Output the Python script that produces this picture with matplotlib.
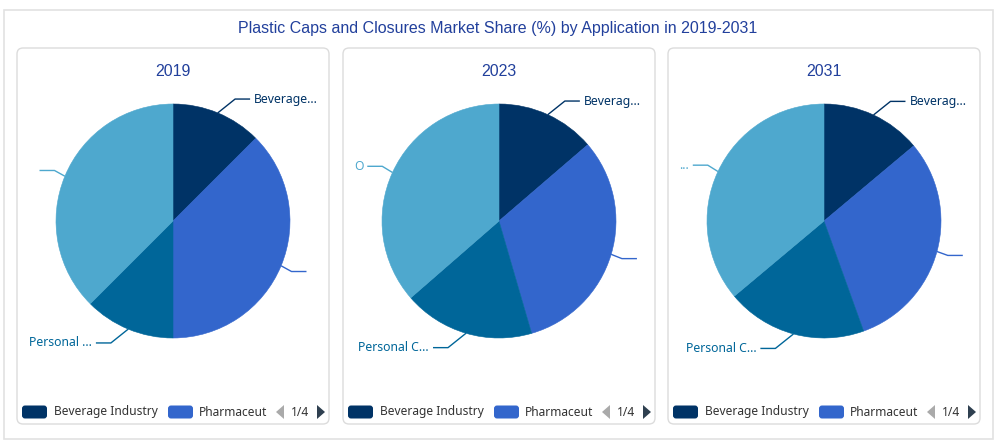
import matplotlib
matplotlib.use('Agg')
import matplotlib.pyplot as plt
from matplotlib.patches import FancyBboxPatch, Polygon, Rectangle
import numpy as np

# ---------------- data ----------------
title = 'Plastic Caps and Closures Market Share (%) by Application in 2019-2031'
years = ['2019', '2023', '2031']
categories = ['Beverage Industry', 'Pharmaceutical', 'Personal Care', 'Others']
legend_items = ['Beverage Industry', 'Pharmaceut']
legend_page = '1/4'
shares_2019 = [12.5, 37.5, 12.5, 37.5]
shares_2023 = [13.7, 31.8, 18.1, 36.4]
shares_2031 = [13.9, 30.6, 19.4, 36.1]
labels_2019 = ['Beverage...', '', 'Personal ...', '']
labels_2023 = ['Beverag...', '', 'Personal C...', 'O']
labels_2031 = ['Beverag...', '', 'Personal C...', '...']
colors = ['#003366', '#3366cc', '#006699', '#4ea8ce']

all_shares = [shares_2019, shares_2023, shares_2031]
all_labels = [labels_2019, labels_2023, labels_2031]

# ---------------- layout (pixels) ----------------
W, H = 1000, 445
def Y(py):
    return H - py

fig = plt.figure(figsize=(W / 100, H / 100), dpi=100)
ax = fig.add_axes([0, 0, 1, 1])

TITLE_FONT = ['Liberation Sans', 'DejaVu Sans']
TEXT_FONT = ['Noto Sans', 'DejaVu Sans']
title_color = '#22409c'

# outer frame
ax.add_patch(Rectangle((4, Y(439)), 989, 429, facecolor='white',
                       edgecolor='#e2e2e2', lw=1.2, zorder=0))
ax.text(498, Y(28), title, ha='center', va='center', fontsize=11.5,
        color=title_color, family=TITLE_FONT)

panel_lefts = [17, 343, 668]
panel_w = 312
panel_top, panel_bot = 48, 424
r = 117
cy = 221

for i, (year, shares, labels) in enumerate(zip(years, all_shares, all_labels)):
    pl = panel_lefts[i]
    cx = pl + panel_w / 2
    ax.add_patch(FancyBboxPatch((pl, Y(panel_bot)), panel_w, panel_bot - panel_top,
                                boxstyle='round,pad=0,rounding_size=6',
                                facecolor='white', edgecolor='#dcdcdc', lw=1.0, zorder=1))
    ax.text(cx, Y(71), year, ha='center', va='center', fontsize=11.5,
            color=title_color, family=TITLE_FONT, zorder=3)

    wedges, _ = ax.pie(shares, colors=colors, startangle=90, counterclock=False,
                       center=(cx, Y(cy)), radius=r, frame=True)
    for w, c in zip(wedges, colors):
        w.set_edgecolor(c)
        w.set_linewidth(0.4)
        w.set_zorder(2)

    tot = float(sum(shares))
    start = 0.0
    for v, lab, c in zip(shares, labels, colors):
        ang = start + v / tot * 360.0 / 2
        start += v / tot * 360.0
        th = np.deg2rad(ang)
        s, co = np.sin(th), np.cos(th)
        sign = 1 if s >= 0 else -1
        ex, ey = cx + r * s, cy - r * co
        dy = -15 * co
        dx = sign * max(0.75 * 15 * abs(s), 1.25 * abs(dy))
        kx, ky = ex + dx, ey + dy
        hx = kx + sign * 15
        ax.plot([ex, kx, hx], [Y(ey), Y(ky), Y(ky)], color=c, lw=1.0,
                solid_capstyle='butt', zorder=3)
        if lab:
            ax.text(hx + sign * 4, Y(ky), lab, ha='left' if sign > 0 else 'right',
                    va='center', fontsize=8.8, color=c, family=TEXT_FONT, zorder=3)

    # legend
    ly = 412
    sw_x = [pl + 5, pl + 151]
    tx_x = [pl + 37, pl + 182]
    for j, name in enumerate(legend_items):
        ax.add_patch(FancyBboxPatch((sw_x[j], Y(ly + 6.5)), 25, 13,
                                    boxstyle='round,pad=0,rounding_size=3',
                                    facecolor=colors[j], edgecolor='none', zorder=3))
        ax.text(tx_x[j], Y(ly), name, ha='left', va='center', fontsize=8.6,
                color='#333333', family=TEXT_FONT, zorder=3)
    ax.add_patch(Polygon([(pl + 267, Y(ly - 7)), (pl + 267, Y(ly + 7)), (pl + 259, Y(ly))],
                         closed=True, facecolor='#aaaaaa', edgecolor='none', zorder=3))
    ax.add_patch(Polygon([(pl + 300, Y(ly - 7)), (pl + 300, Y(ly + 7)), (pl + 308, Y(ly))],
                         closed=True, facecolor='#2f4050', edgecolor='none', zorder=3))
    ax.text(pl + 283.5, Y(ly), legend_page, ha='center', va='center', fontsize=8.6,
            color='#333333', family=TEXT_FONT, zorder=3)

ax.set_xlim(0, W)
ax.set_ylim(0, H)
ax.set_aspect('auto')
ax.axis('off')
fig.savefig('out.png', dpi=100, facecolor='white')
